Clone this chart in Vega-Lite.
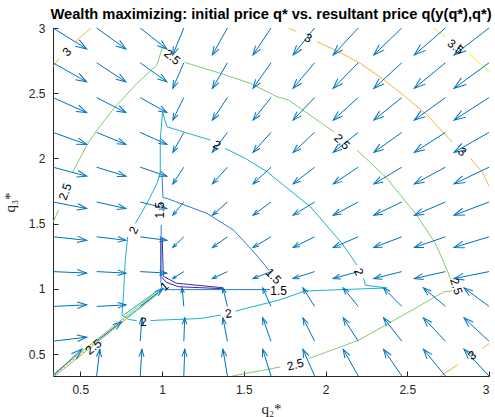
{
"$schema": "https://vega.github.io/schema/vega-lite/v6.json",
"width": 436, "height": 348,
"autosize": {"type": "none"},
"padding": {"left": 53, "top": 28, "right": 6, "bottom": 41},
"background": "white",
"title": {"text": "Wealth maximizing: initial price q* vs. resultant price q(y(q*),q*)", "font": "Liberation Sans", "fontSize": 14.7, "fontWeight": "bold", "color": "#000000", "anchor": "middle", "offset": 0},
"config": {
  "view": {"stroke": null},
  "axis": {"domainColor": "#262626", "tickColor": "#262626", "labelColor": "#262626", "labelFont": "Liberation Sans", "labelFontSize": 12, "grid": false, "tickSize": -5, "titleFont": "Liberation Serif", "titleFontSize": 15, "titleFontWeight": "normal", "titleColor": "#262626", "domainWidth": 1, "tickWidth": 1},
  "axisX": {"labelPadding": 13, "titlePadding": 6},
  "axisY": {"labelPadding": 13, "titlePadding": 11}
},
"datasets": {
"arrows": [
{"x":0.3333,"y":3,"xe":0.5393,"ye":2.839},{"x":0.6,"y":3,"xe":0.779,"ye":2.839},{"x":0.8667,"y":3,"xe":1.0297,"ye":2.839},
{"x":1.1333,"y":3,"xe":1.066,"ye":2.793},{"x":1.4,"y":3,"xe":1.3082,"ye":2.793},{"x":1.6667,"y":3,"xe":1.5567,"ye":2.793},{"x":1.9333,"y":3,"xe":1.8017,"ye":2.793},{"x":2.2,"y":3,"xe":2.047,"ye":2.793},{"x":2.4667,"y":3,"xe":2.2957,"ye":2.793},{"x":2.7333,"y":3,"xe":2.5433,"ye":2.793},{"x":3,"y":3,"xe":2.786,"ye":2.793},
{"x":0.3333,"y":2.7333,"xe":0.5393,"ye":2.5873},{"x":0.6,"y":2.7333,"xe":0.779,"ye":2.5873},{"x":0.8667,"y":2.7333,"xe":1.0297,"ye":2.5873},
{"x":1.1333,"y":2.7333,"xe":1.066,"ye":2.5377},{"x":1.4,"y":2.7333,"xe":1.3082,"ye":2.5377},{"x":1.6667,"y":2.7333,"xe":1.5567,"ye":2.5377},{"x":1.9333,"y":2.7333,"xe":1.8017,"ye":2.5377},{"x":2.2,"y":2.7333,"xe":2.047,"ye":2.5377},{"x":2.4667,"y":2.7333,"xe":2.2957,"ye":2.5377},{"x":2.7333,"y":2.7333,"xe":2.5433,"ye":2.5377},{"x":3,"y":2.7333,"xe":2.786,"ye":2.5377},
{"x":0.3333,"y":2.4667,"xe":0.5393,"ye":2.3517},{"x":0.6,"y":2.4667,"xe":0.779,"ye":2.3517},{"x":0.8667,"y":2.4667,"xe":1.0297,"ye":2.3517},
{"x":1.1333,"y":2.4667,"xe":1.066,"ye":2.2942},{"x":1.4,"y":2.4667,"xe":1.3082,"ye":2.2942},{"x":1.6667,"y":2.4667,"xe":1.5567,"ye":2.2942},{"x":1.9333,"y":2.4667,"xe":1.8017,"ye":2.2942},{"x":2.2,"y":2.4667,"xe":2.047,"ye":2.2942},{"x":2.4667,"y":2.4667,"xe":2.2957,"ye":2.2942},{"x":2.7333,"y":2.4667,"xe":2.5433,"ye":2.2942},{"x":3,"y":2.4667,"xe":2.786,"ye":2.2942},
{"x":0.3333,"y":2.2,"xe":0.5393,"ye":2.108},{"x":0.6,"y":2.2,"xe":0.779,"ye":2.108},{"x":0.8667,"y":2.2,"xe":1.0297,"ye":2.108},
{"x":1.1333,"y":2.2,"xe":1.066,"ye":2.047},{"x":1.4,"y":2.2,"xe":1.3082,"ye":2.047},{"x":1.6667,"y":2.2,"xe":1.5567,"ye":2.047},{"x":1.9333,"y":2.2,"xe":1.8017,"ye":2.047},{"x":2.2,"y":2.2,"xe":2.047,"ye":2.047},{"x":2.4667,"y":2.2,"xe":2.2957,"ye":2.047},{"x":2.7333,"y":2.2,"xe":2.5433,"ye":2.047},{"x":3,"y":2.2,"xe":2.786,"ye":2.047},
{"x":0.3333,"y":1.9333,"xe":0.5393,"ye":1.8643},{"x":0.6,"y":1.9333,"xe":0.779,"ye":1.8643},{"x":0.8667,"y":1.9333,"xe":1.0297,"ye":1.8643},
{"x":1.1333,"y":1.9333,"xe":1.066,"ye":1.8053},{"x":1.4,"y":1.9333,"xe":1.3082,"ye":1.8053},{"x":1.6667,"y":1.9333,"xe":1.5567,"ye":1.8053},{"x":1.9333,"y":1.9333,"xe":1.8017,"ye":1.8053},{"x":2.2,"y":1.9333,"xe":2.047,"ye":1.8053},{"x":2.4667,"y":1.9333,"xe":2.2957,"ye":1.8053},{"x":2.7333,"y":1.9333,"xe":2.5433,"ye":1.8053},{"x":3,"y":1.9333,"xe":2.786,"ye":1.8053},
{"x":0.3333,"y":1.6667,"xe":0.5393,"ye":1.6167},{"x":0.6,"y":1.6667,"xe":0.779,"ye":1.6167},{"x":0.8667,"y":1.6667,"xe":1.0297,"ye":1.6167},
{"x":1.1333,"y":1.6667,"xe":1.066,"ye":1.5647},{"x":1.4,"y":1.6667,"xe":1.3082,"ye":1.5647},{"x":1.6667,"y":1.6667,"xe":1.5567,"ye":1.5647},{"x":1.9333,"y":1.6667,"xe":1.8017,"ye":1.5647},{"x":2.2,"y":1.6667,"xe":2.047,"ye":1.5647},{"x":2.4667,"y":1.6667,"xe":2.2957,"ye":1.5647},{"x":2.7333,"y":1.6667,"xe":2.5433,"ye":1.5647},{"x":3,"y":1.6667,"xe":2.786,"ye":1.5647},
{"x":0.3333,"y":1.4,"xe":0.5393,"ye":1.373},{"x":0.6,"y":1.4,"xe":0.779,"ye":1.373},{"x":0.8667,"y":1.4,"xe":1.0297,"ye":1.373},
{"x":1.1333,"y":1.4,"xe":1.066,"ye":1.318},{"x":1.4,"y":1.4,"xe":1.3082,"ye":1.318},{"x":1.6667,"y":1.4,"xe":1.5567,"ye":1.318},{"x":1.9333,"y":1.4,"xe":1.8017,"ye":1.318},{"x":2.2,"y":1.4,"xe":2.047,"ye":1.318},{"x":2.4667,"y":1.4,"xe":2.2957,"ye":1.318},{"x":2.7333,"y":1.4,"xe":2.5433,"ye":1.318},{"x":3,"y":1.4,"xe":2.786,"ye":1.318},
{"x":0.3333,"y":1.1333,"xe":0.5393,"ye":1.1218},{"x":0.6,"y":1.1333,"xe":0.779,"ye":1.1218},{"x":0.8667,"y":1.1333,"xe":1.0297,"ye":1.1218},
{"x":1.1333,"y":1.1333,"xe":1.066,"ye":1.0796},{"x":1.4,"y":1.1333,"xe":1.3082,"ye":1.0796},{"x":1.6667,"y":1.1333,"xe":1.5567,"ye":1.0796},{"x":1.9333,"y":1.1333,"xe":1.8017,"ye":1.0796},{"x":2.2,"y":1.1333,"xe":2.047,"ye":1.0796},{"x":2.4667,"y":1.1333,"xe":2.2957,"ye":1.0796},{"x":2.7333,"y":1.1333,"xe":2.5433,"ye":1.0796},{"x":3,"y":1.1333,"xe":2.786,"ye":1.0796},
{"x":0.3333,"y":0.8667,"xe":0.5393,"ye":0.8782},{"x":0.6,"y":0.8667,"xe":0.779,"ye":0.8782},{"x":0.8667,"y":0.8667,"xe":1.0044,"ye":1.0007},
{"x":1.1333,"y":0.8667,"xe":1.1229,"ye":1.0087},{"x":1.4,"y":0.8667,"xe":1.3725,"ye":1.0087},{"x":1.6667,"y":0.8667,"xe":1.6159,"ye":1.0087},{"x":1.9333,"y":0.8667,"xe":1.8617,"ye":1.0087},{"x":2.2,"y":0.8667,"xe":2.1082,"ye":1.0087},{"x":2.4667,"y":0.8667,"xe":2.3547,"ye":1.0087},{"x":2.7333,"y":0.8667,"xe":2.5987,"ye":1.0087},{"x":3,"y":0.8667,"xe":2.847,"ye":1.0087},
{"x":0.3333,"y":0.6,"xe":0.5393,"ye":0.6307},{"x":0.6,"y":0.6,"xe":0.753,"ye":0.7495},{"x":0.8667,"y":0.6,"xe":0.8771,"ye":0.779},
{"x":1.1333,"y":0.6,"xe":1.1393,"ye":0.779},{"x":1.4,"y":0.6,"xe":1.3725,"ye":0.779},{"x":1.6667,"y":0.6,"xe":1.6159,"ye":0.779},{"x":1.9333,"y":0.6,"xe":1.8617,"ye":0.779},{"x":2.2,"y":0.6,"xe":2.1082,"ye":0.779},{"x":2.4667,"y":0.6,"xe":2.3547,"ye":0.779},{"x":2.7333,"y":0.6,"xe":2.5987,"ye":0.779},{"x":3,"y":0.6,"xe":2.847,"ye":0.779},
{"x":0.3333,"y":0.3333,"xe":0.5108,"ye":0.5403},{"x":0.6,"y":0.3333,"xe":0.62,"ye":0.5383},{"x":0.8667,"y":0.3333,"xe":0.8771,"ye":0.5383},
{"x":1.1333,"y":0.3333,"xe":1.1393,"ye":0.5383},{"x":1.4,"y":0.3333,"xe":1.3725,"ye":0.5383},{"x":1.6667,"y":0.3333,"xe":1.6159,"ye":0.5383},{"x":1.9333,"y":0.3333,"xe":1.8617,"ye":0.5383},{"x":2.2,"y":0.3333,"xe":2.1082,"ye":0.5383},{"x":2.4667,"y":0.3333,"xe":2.3547,"ye":0.5383},{"x":2.7333,"y":0.3333,"xe":2.5987,"ye":0.5383},{"x":3,"y":0.3333,"xe":2.847,"ye":0.5383}
],
"contours": [
{"level":1,"seg":"a","i":0,"x":1.0016,"y":1.39},{"level":1,"seg":"a","i":1,"x":1.0077,"y":1.098},{"level":1,"seg":"a","i":2,"x":1.0873,"y":1.0445},{"level":1,"seg":"a","i":3,"x":1.3688,"y":1.01},{"level":1,"seg":"a","i":4,"x":1.3688,"y":1.0023},{"level":1,"seg":"a","i":5,"x":1.0995,"y":1.0176},{"level":1,"seg":"a","i":6,"x":1.026,"y":1.052},{"level":1,"seg":"a","i":7,"x":0.9924,"y":1.098},{"level":1,"seg":"a","i":8,"x":0.9924,"y":1.39},
{"level":1.5,"seg":"b1","i":0,"x":1.0,"y":1.8727},{"level":1.5,"seg":"b1","i":1,"x":1.006,"y":1.7},{"level":1.5,"seg":"b1","i":2,"x":1.0304,"y":1.694},{"level":1.5,"seg":"b1","i":3,"x":1.2752,"y":1.579},{"level":1.5,"seg":"b1","i":4,"x":1.438,"y":1.451},{"level":1.5,"seg":"b1","i":5,"x":1.54,"y":1.313},{"level":1.5,"seg":"b1","i":6,"x":1.614,"y":1.206},{"level":1.5,"seg":"b1","i":7,"x":1.655,"y":1.14},
{"level":1.5,"seg":"b2","i":0,"x":0.995,"y":1.49},{"level":1.5,"seg":"b2","i":1,"x":0.993,"y":1.06},{"level":1.5,"seg":"b2","i":2,"x":1.0,"y":1.005},{"level":1.5,"seg":"b2","i":3,"x":1.03,"y":0.995},{"level":1.5,"seg":"b2","i":4,"x":1.66,"y":0.996},
{"level":2,"seg":"c1","i":0,"x":1.0034,"y":2.358},{"level":2,"seg":"c1","i":1,"x":1.0304,"y":2.243},{"level":2,"seg":"c1","i":2,"x":1.2954,"y":2.141},
{"level":2,"seg":"c2","i":0,"x":1.385,"y":2.078},{"level":2,"seg":"c2","i":1,"x":1.5097,"y":2.0008},{"level":2,"seg":"c2","i":2,"x":1.6424,"y":1.898},{"level":2,"seg":"c2","i":3,"x":1.9074,"y":1.63},{"level":2,"seg":"c2","i":4,"x":2.1014,"y":1.349},{"level":2,"seg":"c2","i":5,"x":2.1931,"y":1.183},
{"level":2,"seg":"c3","i":0,"x":2.233,"y":1.081},{"level":2,"seg":"c3","i":1,"x":2.244,"y":1.029},{"level":2,"seg":"c3","i":2,"x":2.377,"y":1.008},{"level":2,"seg":"c3","i":3,"x":1.877,"y":0.9847},{"level":2,"seg":"c3","i":4,"x":1.713,"y":0.9141},{"level":2,"seg":"c3","i":5,"x":1.5097,"y":0.8505},{"level":2,"seg":"c3","i":6,"x":1.45,"y":0.83},
{"level":2,"seg":"c4","i":0,"x":1.36,"y":0.8},{"level":2,"seg":"c4","i":1,"x":1.234,"y":0.7738},{"level":2,"seg":"c4","i":2,"x":0.969,"y":0.7607},{"level":2,"seg":"c4","i":3,"x":0.93,"y":0.757},
{"level":2,"seg":"c5","i":0,"x":0.845,"y":0.757},{"level":2,"seg":"c5","i":1,"x":0.7954,"y":0.767},{"level":2,"seg":"c5","i":2,"x":0.755,"y":0.799},{"level":2,"seg":"c5","i":3,"x":0.765,"y":0.9655},{"level":2,"seg":"c5","i":4,"x":0.7752,"y":1.221},{"level":2,"seg":"c5","i":5,"x":0.79,"y":1.4},
{"level":2,"seg":"c6","i":0,"x":0.8364,"y":1.502},{"level":2,"seg":"c6","i":1,"x":0.908,"y":1.656},{"level":2,"seg":"c6","i":2,"x":0.969,"y":1.809},{"level":2,"seg":"c6","i":3,"x":0.9893,"y":1.886},{"level":2,"seg":"c6","i":4,"x":0.9893,"y":2.141},{"level":2,"seg":"c6","i":5,"x":1.0034,"y":2.358},
{"level":2,"seg":"c7","i":0,"x":0.765,"y":0.8},{"level":2,"seg":"c7","i":1,"x":1.0,"y":1.012},
{"level":2,"seg":"c8","i":0,"x":0.785,"y":0.782},{"level":2,"seg":"c8","i":1,"x":1.01,"y":1.0},
{"level":2.5,"seg":"g1","i":0,"x":0.3333,"y":1.51},{"level":2.5,"seg":"g1","i":1,"x":0.367,"y":1.6043},
{"level":2.5,"seg":"g2","i":0,"x":0.449,"y":1.8857},{"level":2.5,"seg":"g2","i":1,"x":0.5408,"y":2.1028},{"level":2.5,"seg":"g2","i":2,"x":0.602,"y":2.2178},{"level":2.5,"seg":"g2","i":3,"x":0.714,"y":2.3965},{"level":2.5,"seg":"g2","i":4,"x":0.8468,"y":2.5759},{"level":2.5,"seg":"g2","i":5,"x":0.9692,"y":2.7163},{"level":2.5,"seg":"g2","i":6,"x":1.0034,"y":2.8566},
{"level":2.5,"seg":"g3","i":0,"x":1.138,"y":2.737},{"level":2.5,"seg":"g3","i":1,"x":1.3566,"y":2.6526},{"level":2.5,"seg":"g3","i":2,"x":1.54,"y":2.576},{"level":2.5,"seg":"g3","i":3,"x":1.7036,"y":2.4732},{"level":2.5,"seg":"g3","i":4,"x":1.7745,"y":2.448},{"level":2.5,"seg":"g3","i":5,"x":2.05,"y":2.2048},
{"level":2.5,"seg":"g4","i":0,"x":2.1931,"y":2.0644},{"level":2.5,"seg":"g4","i":1,"x":2.3665,"y":1.8597},{"level":2.5,"seg":"g4","i":2,"x":2.55,"y":1.579},{"level":2.5,"seg":"g4","i":3,"x":2.6725,"y":1.349},{"level":2.5,"seg":"g4","i":4,"x":2.7441,"y":1.1442},{"level":2.5,"seg":"g4","i":5,"x":2.7643,"y":1.075},
{"level":2.5,"seg":"g5","i":0,"x":2.7746,"y":0.9854},{"level":2.5,"seg":"g5","i":1,"x":2.7232,"y":0.9778},{"level":2.5,"seg":"g5","i":2,"x":2.5437,"y":0.8489},{"level":2.5,"seg":"g5","i":3,"x":2.3665,"y":0.7224},{"level":2.5,"seg":"g5","i":4,"x":2.2031,"y":0.6074},{"level":2.5,"seg":"g5","i":5,"x":1.8971,"y":0.467},
{"level":2.5,"seg":"g6","i":0,"x":1.7239,"y":0.4026},{"level":2.5,"seg":"g6","i":1,"x":1.5097,"y":0.352},{"level":2.5,"seg":"g6","i":2,"x":1.43,"y":0.3333},
{"level":2.5,"seg":"g7","i":0,"x":0.3333,"y":0.345},{"level":2.5,"seg":"g7","i":1,"x":0.96,"y":0.972},
{"level":2.5,"seg":"g8","i":0,"x":0.345,"y":0.3333},{"level":2.5,"seg":"g8","i":1,"x":0.972,"y":0.96},
{"level":3,"seg":"o1","i":0,"x":0.3333,"y":2.703},{"level":3,"seg":"o1","i":1,"x":0.371,"y":2.766},
{"level":3,"seg":"o2","i":0,"x":0.4692,"y":2.895},{"level":3,"seg":"o2","i":1,"x":0.5653,"y":3.0},
{"level":3,"seg":"o3","i":0,"x":1.774,"y":3.0},{"level":3,"seg":"o3","i":1,"x":1.822,"y":2.973},
{"level":3,"seg":"o4","i":0,"x":1.948,"y":2.895},{"level":3,"seg":"o4","i":1,"x":2.081,"y":2.818},{"level":3,"seg":"o4","i":2,"x":2.213,"y":2.729},{"level":3,"seg":"o4","i":3,"x":2.346,"y":2.614},{"level":3,"seg":"o4","i":4,"x":2.489,"y":2.473},{"level":3,"seg":"o4","i":5,"x":2.622,"y":2.333},{"level":3,"seg":"o4","i":6,"x":2.754,"y":2.154},{"level":3,"seg":"o4","i":7,"x":2.776,"y":2.126},
{"level":3,"seg":"o5","i":0,"x":2.887,"y":2.001},{"level":3,"seg":"o5","i":1,"x":2.958,"y":1.898},{"level":3,"seg":"o5","i":2,"x":3.0,"y":1.788},
{"level":3,"seg":"o6","i":0,"x":2.703,"y":0.3333},{"level":3,"seg":"o6","i":1,"x":2.813,"y":0.4223},
{"level":3,"seg":"o7","i":0,"x":2.96,"y":0.546},{"level":3,"seg":"o7","i":1,"x":3.0,"y":0.5805},
{"level":3,"seg":"od","i":0,"x":0.34,"y":0.34},{"level":3,"seg":"od","i":1,"x":0.79,"y":0.79},
{"level":3.5,"seg":"y1","i":0,"x":2.662,"y":3.0},{"level":3.5,"seg":"y1","i":1,"x":2.733,"y":2.931},
{"level":3.5,"seg":"y2","i":0,"x":2.876,"y":2.806},{"level":3.5,"seg":"y2","i":1,"x":2.978,"y":2.691},{"level":3.5,"seg":"y2","i":2,"x":3.0,"y":2.666}
],
"labels": [
{"text":"1","x":1.015,"y":1.02,"rotation":-40},
{"text":"1.5","x":0.99,"y":1.604,"rotation":-90},
{"text":"1.5","x":1.682,"y":1.098,"rotation":45},
{"text":"1.5","x":1.713,"y":0.985,"rotation":0},
{"text":"2","x":1.3364,"y":2.103,"rotation":30},
{"text":"2","x":2.203,"y":1.131,"rotation":66},
{"text":"2","x":1.407,"y":0.812,"rotation":-8},
{"text":"2","x":0.8872,"y":0.748,"rotation":-2},
{"text":"2","x":0.826,"y":1.451,"rotation":-64},
{"text":"2.5","x":0.408,"y":1.745,"rotation":-70},
{"text":"2.5","x":1.0628,"y":2.7776,"rotation":40},
{"text":"2.5","x":2.1014,"y":2.128,"rotation":45},
{"text":"2.5","x":2.8,"y":1.02,"rotation":72},
{"text":"2.5","x":1.8154,"y":0.42,"rotation":-15},
{"text":"2.5","x":0.581,"y":0.556,"rotation":-38},
{"text":"3","x":0.4184,"y":2.818,"rotation":-46},
{"text":"3","x":1.895,"y":2.923,"rotation":25},
{"text":"3","x":2.836,"y":2.051,"rotation":42},
{"text":"3","x":2.897,"y":0.4923,"rotation":-33},
{"text":"3.5","x":2.795,"y":2.857,"rotation":38}
]
},
"layer": [
{
  "data": {"name": "contours"},
  "transform": [{"filter": "datum.seg != 'od'"}],
  "mark": {"type": "line", "strokeWidth": 1, "clip": true},
  "encoding": {
    "x": {"field": "x", "type": "quantitative", "title": "q₂*", "scale": {"domain": [0.3333, 3], "nice": false, "zero": false}, "axis": {"values": [0.5, 1, 1.5, 2, 2.5, 3], "format": "~g"}},
    "y": {"field": "y", "type": "quantitative", "title": "q₃*", "scale": {"domain": [0.3333, 3], "nice": false, "zero": false}, "axis": {"values": [0.5, 1, 1.5, 2, 2.5, 3], "format": "~g"}},
    "detail": {"field": "seg"},
    "order": {"field": "i", "type": "quantitative"},
    "color": {"field": "level", "type": "ordinal", "legend": null, "scale": {"domain": [1, 1.5, 2, 2.5, 3, 3.5], "range": ["#3E2A99", "#2A7DE1", "#1CB0CC", "#86C873", "#F5B43A", "#F2EF10"]}}
  }
},
{
  "data": {"name": "contours"},
  "transform": [{"filter": "datum.seg == 'od'"}],
  "mark": {"type": "line", "strokeWidth": 1.2, "strokeDash": [2, 2], "clip": true, "color": "#F5B43A"},
  "encoding": {
    "x": {"field": "x", "type": "quantitative", "title": "q₂*", "scale": {"domain": [0.3333, 3], "nice": false, "zero": false}},
    "y": {"field": "y", "type": "quantitative", "title": "q₃*", "scale": {"domain": [0.3333, 3], "nice": false, "zero": false}},
    "order": {"field": "i", "type": "quantitative"}
  }
},
{
  "data": {"name": "arrows"},
  "mark": {"type": "rule", "color": "#0072BD", "strokeWidth": 1},
  "encoding": {
    "x": {"field": "x", "type": "quantitative", "title": "q₂*", "scale": {"domain": [0.3333, 3], "nice": false, "zero": false}},
    "y": {"field": "y", "type": "quantitative", "title": "q₃*", "scale": {"domain": [0.3333, 3], "nice": false, "zero": false}},
    "x2": {"field": "xe"},
    "y2": {"field": "ye"}
  }
},
{
  "data": {"name": "arrows"},
  "transform": [
    {"calculate": "atan2((datum.xe-datum.x)*163.5, (datum.ye-datum.y)*130.5)*180/PI", "as": "ang"},
    {"calculate": "0.3136*(pow((datum.xe-datum.x)*163.5,2)+pow((datum.ye-datum.y)*130.5,2))", "as": "hs"}
  ],
  "mark": {"type": "point", "shape": "M-0.34,1L0,0L0.34,1", "filled": false, "color": "#0072BD", "strokeWidth": 1, "opacity": 1},
  "encoding": {
    "x": {"field": "xe", "type": "quantitative", "title": "q₂*", "scale": {"domain": [0.3333, 3], "nice": false, "zero": false}},
    "y": {"field": "ye", "type": "quantitative", "title": "q₃*", "scale": {"domain": [0.3333, 3], "nice": false, "zero": false}},
    "angle": {"field": "ang", "type": "quantitative", "scale": null},
    "size": {"field": "hs", "type": "quantitative", "scale": null}
  }
},
{
  "data": {"name": "labels"},
  "mark": {"type": "text", "font": "Liberation Sans", "fontSize": 12, "color": "#000000", "align": "center", "baseline": "middle"},
  "encoding": {
    "x": {"field": "x", "type": "quantitative", "title": "q₂*", "scale": {"domain": [0.3333, 3], "nice": false, "zero": false}},
    "y": {"field": "y", "type": "quantitative", "title": "q₃*", "scale": {"domain": [0.3333, 3], "nice": false, "zero": false}},
    "text": {"field": "text"},
    "angle": {"field": "rotation", "type": "quantitative", "scale": null}
  }
}
]
}
